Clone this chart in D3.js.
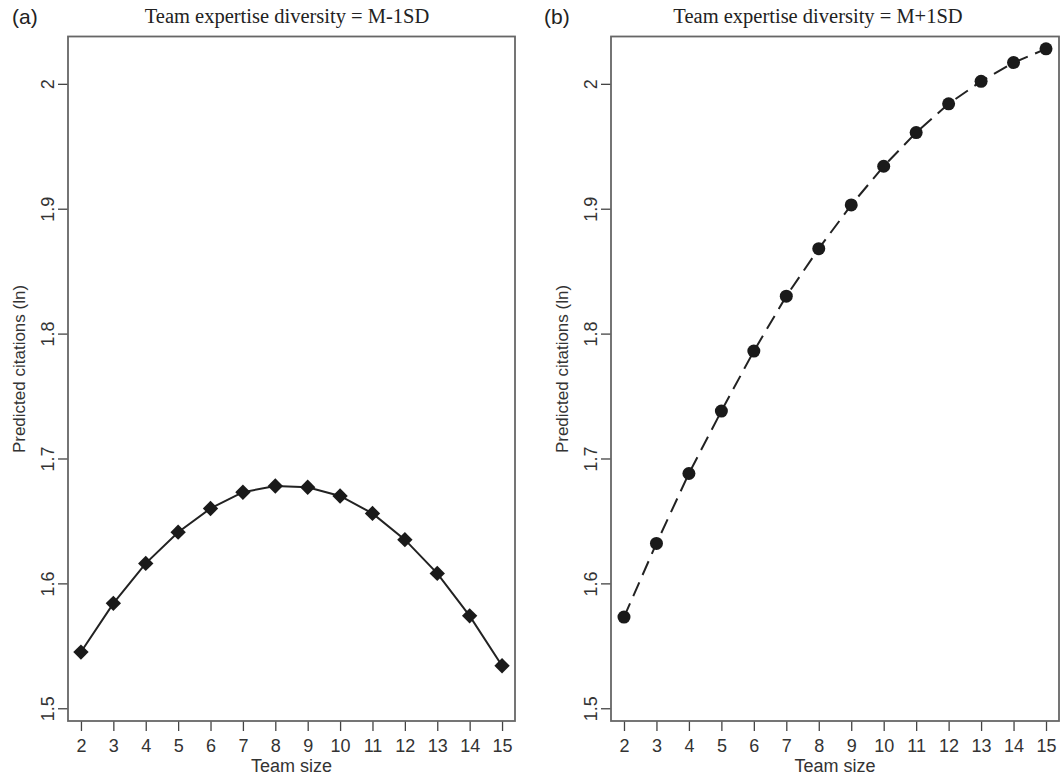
<!DOCTYPE html>
<html>
<head>
<meta charset="utf-8">
<script src="https://cdn.jsdelivr.net/npm/d3@7"></script>
<style>
  body { margin: 0; background: #fff; }
  svg { display: block; }
</style>
</head>
<body>
<div id="chart"></div>
<script>
// values
var teamSize = [2, 3, 4, 5, 6, 7, 8, 9, 10, 11, 12, 13, 14, 15];
var lowDiversity = [1.545, 1.584, 1.616, 1.641, 1.660, 1.673, 1.678, 1.677, 1.670, 1.656, 1.635, 1.608, 1.574, 1.534];
var highDiversity = [1.573, 1.632, 1.688, 1.738, 1.786, 1.830, 1.868, 1.903, 1.934, 1.961, 1.984, 2.002, 2.017, 2.028];
var yTicks = [1.5, 1.6, 1.7, 1.8, 1.9, 2];
var yTickLabels = ["1.5", "1.6", "1.7", "1.8", "1.9", "2"];
var panelLetters = ["(a)", "(b)"];
var panelTitles = ["Team expertise diversity = M-1SD", "Team expertise diversity = M+1SD"];
var xTitle = "Team size";
var yTitle = "Predicted citations (ln)";

var W = 1063, H = 776;
var svg = d3.select("#chart").append("svg")
  .attr("width", W)
  .attr("height", H);

var sans = "'Liberation Sans', Arial, sans-serif";
var serif = "'Liberation Serif', 'Times New Roman', serif";
var textCol = "#333";

drawPanel({
  left: 68, right: 515, top: 36.5, bottom: 721,
  values: lowDiversity, letter: panelLetters[0], letterX: 12,
  title: panelTitles[0], titleX: 287,
  marker: "diamond", dashed: false
});
drawPanel({
  left: 611, right: 1059, top: 36.5, bottom: 721,
  values: highDiversity, letter: panelLetters[1], letterX: 544,
  title: panelTitles[1], titleX: 818,
  marker: "circle", dashed: true
});

function drawPanel(p) {
  var x = d3.scaleLinear().domain([1.6, 15.4]).range([p.left, p.right]);
  var y = d3.scaleLinear().domain([1.4898, 2.0379]).range([p.bottom, p.top]);
  var g = svg.append("g");

  // x axis (ticks only, box drawn separately)
  var xa = g.append("g")
    .attr("transform", "translate(0," + p.bottom + ")")
    .call(d3.axisBottom(x).tickValues(teamSize).tickSize(10).tickFormat(d3.format("d")));
  xa.select(".domain").remove();
  xa.selectAll("line").attr("stroke", "#444").attr("stroke-width", 1.3);
  xa.selectAll("text")
    .attr("y", 31).attr("dy", 0)
    .attr("fill", textCol)
    .style("font-family", sans).style("font-size", "18px");

  // y axis with rotated labels
  var ya = g.append("g")
    .attr("transform", "translate(" + p.left + ",0)")
    .call(d3.axisLeft(y).tickValues(yTicks).tickSize(10)
      .tickFormat(function(d, i) { return yTickLabels[i]; }));
  ya.select(".domain").remove();
  ya.selectAll("line").attr("stroke", "#444").attr("stroke-width", 1.3);
  ya.selectAll("text")
    .attr("x", 0).attr("dy", 0)
    .attr("text-anchor", "middle")
    .attr("transform", "translate(-14,0) rotate(-90)")
    .attr("fill", textCol)
    .style("font-family", sans).style("font-size", "18px");

  // box
  g.append("rect")
    .attr("x", p.left).attr("y", p.top)
    .attr("width", p.right - p.left).attr("height", p.bottom - p.top)
    .attr("fill", "none").attr("stroke", "#666").attr("stroke-width", 1.8);

  var pts = teamSize.map(function(d, i) { return [d, p.values[i]]; });

  var line = d3.line()
    .x(function(d) { return x(d[0]); })
    .y(function(d) { return y(d[1]); });

  g.append("path")
    .datum(pts)
    .attr("d", line)
    .attr("fill", "none")
    .attr("stroke", "#222")
    .attr("stroke-width", 2)
    .attr("stroke-dasharray", p.dashed ? "15,8" : null);

  if (p.marker == "diamond") {
    g.selectAll(".mk").data(pts).enter().append("path")
      .attr("class", "mk")
      .attr("d", d3.symbol().type(d3.symbolSquare).size(118))
      .attr("transform", function(d) {
        return "translate(" + x(d[0]) + "," + y(d[1]) + ") rotate(45)";
      })
      .attr("fill", "#1a1a1a");
  } else {
    g.selectAll(".mk").data(pts).enter().append("circle")
      .attr("class", "mk")
      .attr("cx", function(d) { return x(d[0]); })
      .attr("cy", function(d) { return y(d[1]); })
      .attr("r", 6.5)
      .attr("fill", "#1a1a1a");
  }

  // titles
  g.append("text")
    .attr("x", p.letterX).attr("y", 24)
    .attr("fill", "#222")
    .style("font-family", sans).style("font-size", "21px")
    .text(p.letter);
  g.append("text")
    .attr("x", p.titleX).attr("y", 23)
    .attr("text-anchor", "middle")
    .attr("fill", "#222")
    .style("font-family", serif).style("font-size", "20.5px")
    .text(p.title);

  g.append("text")
    .attr("x", (p.left + p.right) / 2).attr("y", 771.5)
    .attr("text-anchor", "middle")
    .attr("fill", textCol)
    .style("font-family", sans).style("font-size", "18px")
    .text(xTitle);

  g.append("text")
    .attr("transform", "translate(" + (p.left - 43) + ",369) rotate(-90)")
    .attr("text-anchor", "middle")
    .attr("fill", textCol)
    .style("font-family", sans).style("font-size", "17px")
    .text(yTitle);
}
</script>
</body>
</html>
